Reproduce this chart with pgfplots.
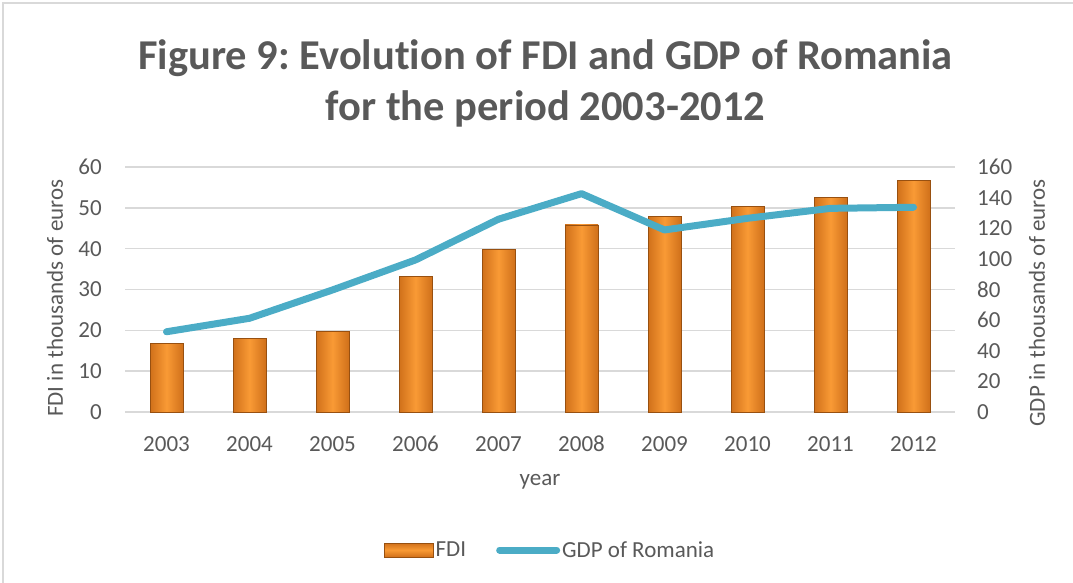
\documentclass[border=0pt]{standalone}
\usepackage{pgfplots}
\pgfplotsset{compat=1.18}
\usepackage{fontspec}
\setmainfont{Carlito}[Ligatures=NoCommon]
\frenchspacing
\definecolor{txt}{HTML}{595959}
\definecolor{grd}{HTML}{D9D9D9}
\definecolor{gdp}{HTML}{4BACC6}
\definecolor{orM}{HTML}{F99A35}
\definecolor{orD}{HTML}{D0701A}
\definecolor{orE}{HTML}{985010}
\pgfplotstableread{
x gdp
0 52.4
1 61.2
2 79.7
3 99.3
4 125.9
5 142.6
6 118.9
7 126.5
8 133.0
9 133.7
}\gdptab
\pgfplotsset{barsty/.style={ybar, bar width=33pt, draw=orE, line width=0.8pt,
  left color=orD, right color=orD, middle color=orM}}
\begin{document}
\begin{tikzpicture}
\useasboundingbox (0pt,0pt) rectangle (1073pt,582pt);
\draw[grd, line width=2pt] (3pt,-5pt) -- (3pt,579pt) -- (1080pt,579pt);
\node[text=txt, font=\fontsize{42.5}{51}\selectfont\bfseries, align=center] at (545.5pt,499pt) {Figure 9: Evolution of FDI and GDP of Romania\\for the period 2003-2012};
\begin{axis}[
  name=main,
  at={(125pt,170pt)}, anchor=south west,
  width=830pt, height=245pt, scale only axis,
  xmin=-0.5, xmax=9.5, ymin=0, ymax=60,
  xtick={0,...,9},
  xticklabels={2003,2004,2005,2006,2007,2008,2009,2010,2011,2012},
  ytick={0,10,...,60},
  ymajorgrids, grid style={grd, line width=1.5pt},
  axis line style={draw=none},
  major tick length=0pt,
  /pgf/number format/assume math mode=true,
  tick label style={text=txt, font=\fontsize{23}{28}\selectfont, inner sep=0pt},
  yticklabel style={anchor=east, xshift=-23pt},
  xticklabel style={anchor=north, yshift=-24pt},
  xlabel={year},
  xlabel style={at={(rel axis cs:0.5,0)}, anchor=center, yshift=-70pt, text=txt, font=\fontsize{23}{28}\selectfont},
  ylabel={FDI in thousands of euros},
  ylabel style={at={(rel axis cs:0,0.465)}, anchor=center, yshift=70pt, text=txt, font=\fontsize{23}{28}\selectfont},
]
\addplot[barsty] coordinates {(0,16.7)};
\addplot[barsty] coordinates {(1,18.0)};
\addplot[barsty] coordinates {(2,19.8)};
\addplot[barsty] coordinates {(3,33.1)};
\addplot[barsty] coordinates {(4,39.7)};
\addplot[barsty] coordinates {(5,45.8)};
\addplot[barsty] coordinates {(6,47.8)};
\addplot[barsty] coordinates {(7,50.3)};
\addplot[barsty] coordinates {(8,52.5)};
\addplot[barsty] coordinates {(9,56.6)};
\end{axis}
\begin{axis}[
  at={(main.south west)}, anchor=south west,
  width=830pt, height=245pt, scale only axis,
  xmin=-0.5, xmax=9.5, ymin=0, ymax=160,
  ytick={0,20,...,160},
  axis x line=none,
  axis y line*=right,
  axis line style={draw=none},
  major tick length=0pt,
  /pgf/number format/assume math mode=true,
  tick label style={text=txt, font=\fontsize{23}{28}\selectfont, inner sep=0pt},
  yticklabel style={anchor=west, xshift=22pt},
  ylabel={GDP in thousands of euros},
  ylabel style={at={(rel axis cs:1,0.445)}, anchor=center, yshift=-82pt, text=txt, font=\fontsize{23}{28}\selectfont},
  legend columns=2,
  legend style={at={(rel axis cs:0.5,0)}, anchor=center, xshift=10pt, yshift=-138pt, draw=none, fill=none,
    font=\fontsize{23}{28}\selectfont, text=txt, /tikz/every even column/.append style={column sep=28pt},
    nodes={inner sep=2pt}},
]
\addlegendimage{legend image code/.code={\draw[draw=orE, line width=0.8pt, top color=orD, bottom color=orD, middle color=orM] (0pt,-7pt) rectangle (49pt,7pt);}}
\addlegendentry{FDI}
\addplot[gdp, line width=7pt, line cap=round, line join=round,
  legend image code/.code={\draw[gdp, line width=7pt, line cap=round] (0pt,0pt) -- (57pt,0pt);}]
  table[x=x, y=gdp] {\gdptab};
\addlegendentry{GDP of Romania}
\end{axis}
\end{tikzpicture}
\end{document}
